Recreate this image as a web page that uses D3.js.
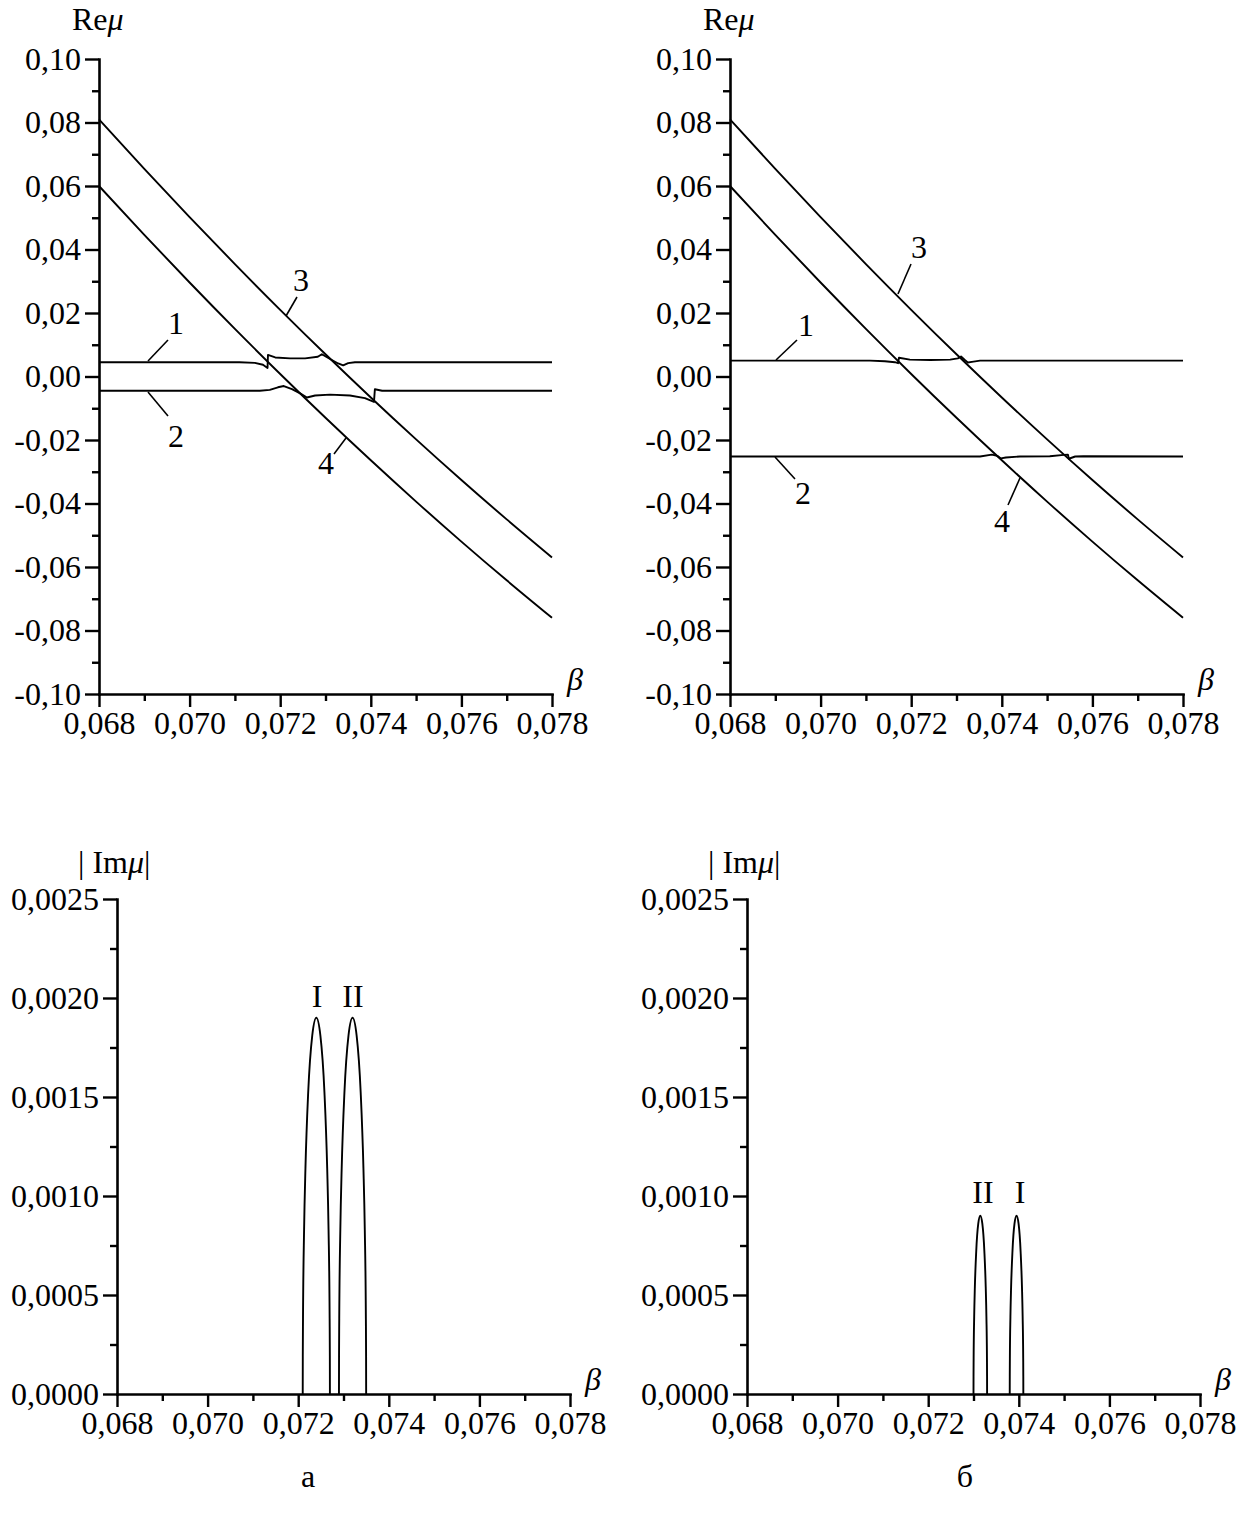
<!DOCTYPE html>
<html>
<head>
<meta charset="utf-8">
<script src="https://cdn.jsdelivr.net/npm/d3@7"></script>
<style>
  body { margin: 0; background: #fff; }
  svg text { font-family: "Liberation Serif", "Times New Roman", serif; fill: #000; }
</style>
</head>
<body>
<svg id="fig" width="1252" height="1517"></svg>
<script>
// ---- tick values ----
const betaTicks = [0.068, 0.070, 0.072, 0.074, 0.076, 0.078];
const betaMinor = [0.069, 0.071, 0.073, 0.075, 0.077];
const reTicks = [-0.10, -0.08, -0.06, -0.04, -0.02, 0.00, 0.02, 0.04, 0.06, 0.08, 0.10];
const reMinor = [-0.09, -0.07, -0.05, -0.03, -0.01, 0.01, 0.03, 0.05, 0.07, 0.09];
const imTicks = [0.0000, 0.0005, 0.0010, 0.0015, 0.0020, 0.0025];
const imMinor = [0.00025, 0.00075, 0.00125, 0.00175, 0.00225];

// ---- curves 3 and 4 (same in both columns) ----
const lineBeta = [0.068, 0.069, 0.070, 0.071, 0.072, 0.073, 0.074, 0.075, 0.076, 0.077, 0.078];
const re3 = [0.0810, 0.0654, 0.0502, 0.0354, 0.0210, 0.0070, -0.0066, -0.0198, -0.0326, -0.0450, -0.0570];
const re4 = [0.0600, 0.0446, 0.0296, 0.0150, 0.0008, -0.0130, -0.0264, -0.0394, -0.0520, -0.0642, -0.0760];

// ---- column а: curves 1 and 2 ----
const a1Beta = [0.0680, 0.07110, 0.07144, 0.07162, 0.07172, 0.07173, 0.07189, 0.07222, 0.07255, 0.07283, 0.07292, 0.07310, 0.07328, 0.07339, 0.07350, 0.07365, 0.07400, 0.0780];
const a1Re   = [0.0045, 0.0045, 0.0043, 0.0037, 0.0027, 0.0068, 0.0060, 0.0057, 0.0057, 0.0062, 0.0070, 0.0055, 0.0041, 0.0035, 0.0042, 0.0045, 0.0045, 0.0045];
const a2Beta = [0.0680, 0.07155, 0.07177, 0.07195, 0.07208, 0.07226, 0.07244, 0.07259, 0.07277, 0.07310, 0.07354, 0.07387, 0.07407, 0.07409, 0.07425, 0.0780];
const a2Re   = [-0.0045, -0.0045, -0.0042, -0.0034, -0.0030, -0.0040, -0.0053, -0.0066, -0.0060, -0.0057, -0.0060, -0.0068, -0.0080, -0.0040, -0.0045, -0.0045];

// ---- column б: curves 1 and 2 ----
const b1Beta = [0.0680, 0.07109, 0.07142, 0.07164, 0.07171, 0.07173, 0.07197, 0.07242, 0.07286, 0.07303, 0.07310, 0.07319, 0.07325, 0.07334, 0.07352, 0.0780];
const b1Re   = [0.0050, 0.0050, 0.0048, 0.0045, 0.0042, 0.0059, 0.0053, 0.0052, 0.0053, 0.0057, 0.0063, 0.0051, 0.0044, 0.0046, 0.0050, 0.0050];
const b2Beta = [0.0680, 0.07352, 0.07378, 0.07390, 0.07398, 0.07409, 0.07440, 0.07506, 0.07537, 0.07546, 0.07548, 0.07562, 0.07580, 0.0780];
const b2Re   = [-0.0252, -0.0252, -0.0246, -0.0250, -0.0258, -0.0255, -0.0252, -0.0251, -0.0247, -0.0246, -0.0259, -0.0252, -0.0251, -0.0252];

// ---- |Im mu| peaks ----
const aPeakIBeta  = [0.07210, 0.0721015, 0.072106, 0.07213, 0.07216, 0.07222, 0.07231, 0.07240, 0.07249, 0.07258, 0.07264, 0.07267, 0.072694, 0.0726985, 0.07270];
const aPeakIIBeta = [0.07290, 0.0729015, 0.072906, 0.07293, 0.07296, 0.07302, 0.07311, 0.07320, 0.07329, 0.07338, 0.07344, 0.07347, 0.073494, 0.0734985, 0.07350];
const aPeakIm     = [0, 0.00019, 0.00038, 0.00083, 0.00114, 0.00152, 0.00181, 0.00190, 0.00181, 0.00152, 0.00114, 0.00083, 0.00038, 0.00019, 0];
const bPeakIIBeta = [0.07300, 0.0730008, 0.073003, 0.073015, 0.07303, 0.07306, 0.073105, 0.07315, 0.073195, 0.07324, 0.07327, 0.073285, 0.073297, 0.0732993, 0.07330];
const bPeakIBeta  = [0.07380, 0.0738008, 0.073803, 0.073815, 0.07383, 0.07386, 0.073905, 0.07395, 0.073995, 0.07404, 0.07407, 0.074085, 0.074097, 0.0740993, 0.07410];
const bPeakIm     = [0, 0.00009, 0.00018, 0.00039, 0.00054, 0.00072, 0.00086, 0.00090, 0.00086, 0.00072, 0.00054, 0.00039, 0.00018, 0.00009, 0];

const svg = d3.select("#fig");
const FS = 32;

const fmtBeta = d => d.toFixed(3).replace(".", ",");
const fmtRe = d => d.toFixed(2).replace(".", ",");
const fmtIm = d => d.toFixed(4).replace(".", ",");

function frame(o) {
  const x = d3.scaleLinear().domain([0.068, 0.078]).range([o.x0, o.x1]);
  const y = d3.scaleLinear().domain(o.yDomain).range([o.y1, o.y0]);
  const g = svg.append("g");

  const styleAxis = sel => {
    sel.selectAll("path.domain").attr("stroke", "#000").attr("stroke-width", 2.6).attr("stroke-linecap", "square");
    sel.selectAll(".tick line").attr("stroke", "#000").attr("stroke-width", 2.4);
    sel.selectAll(".tick text").attr("font-size", FS).attr("font-family", "Liberation Serif, serif");
  };

  // minor ticks
  g.append("g").attr("transform", `translate(0,${o.y1})`)
    .call(d3.axisBottom(x).tickValues(betaMinor).tickSize(7).tickFormat(""))
    .call(s => s.select("path.domain").remove()).call(styleAxis);
  g.append("g").attr("transform", `translate(${o.x0},0)`)
    .call(d3.axisLeft(y).tickValues(o.yMinor).tickSize(7).tickFormat(""))
    .call(s => s.select("path.domain").remove()).call(styleAxis);

  // major ticks and axis lines
  g.append("g").attr("transform", `translate(0,${o.y1})`)
    .call(d3.axisBottom(x).tickValues(betaTicks).tickSize(13).tickSizeOuter(0).tickPadding(4).tickFormat(fmtBeta))
    .call(styleAxis);
  g.append("g").attr("transform", `translate(${o.x0},0)`)
    .call(d3.axisLeft(y).tickValues(o.yTicks).tickSize(14).tickSizeOuter(0).tickPadding(4).tickFormat(o.yFmt))
    .call(styleAxis);

  // axis titles
  g.append("text").attr("x", o.x1 + 15).attr("y", o.y1 - 4)
    .attr("font-size", FS).attr("font-style", "italic").text("β");
  const t = g.append("text").attr("x", o.titleX).attr("y", o.titleY).attr("font-size", FS);
  if (o.kind === "re") {
    t.append("tspan").text("Re");
    t.append("tspan").attr("font-style", "italic").text("μ");
  } else {
    t.append("tspan").text("| Im");
    t.append("tspan").attr("font-style", "italic").text("μ");
    t.append("tspan").text("|");
  }
  return { g, x, y };
}

function curve(p, bs, vs, smooth) {
  const line = d3.line().x(d => p.x(d[0])).y(d => p.y(d[1]))
    .curve(smooth ? d3.curveMonotoneX : d3.curveLinear);
  p.g.append("path").datum(d3.zip(bs, vs)).attr("d", line)
    .attr("fill", "none").attr("stroke", "#000").attr("stroke-width", 1.9)
    .attr("stroke-linejoin", "round");
}

function tag(p, txt, tx, ty, lx1, ly1, lx2, ly2) {
  p.g.append("text").attr("x", tx).attr("y", ty).attr("text-anchor", "middle")
    .attr("font-size", FS).text(txt);
  if (lx1 !== undefined) {
    p.g.append("line").attr("x1", lx1).attr("y1", ly1).attr("x2", lx2).attr("y2", ly2)
      .attr("stroke", "#000").attr("stroke-width", 1.6);
  }
}

const reCommon = { yDomain: [-0.10, 0.10], yTicks: reTicks, yMinor: reMinor, yFmt: fmtRe, kind: "re", y0: 59, y1: 694, titleY: 30 };
const imCommon = { yDomain: [0, 0.0025], yTicks: imTicks, yMinor: imMinor, yFmt: fmtIm, kind: "im", y0: 899, y1: 1394, titleY: 873 };

// ---- column а, top ----
const pa = frame({ ...reCommon, x0: 99, x1: 552, titleX: 72 });
curve(pa, lineBeta, re3, true);
curve(pa, lineBeta, re4, true);
curve(pa, a1Beta, a1Re, false);
curve(pa, a2Beta, a2Re, false);
tag(pa, "1", 176, 334, 148, 361, 168, 340);
tag(pa, "2", 176, 447, 148, 392, 168, 416);
tag(pa, "3", 301, 291, 286, 316, 297, 297);
tag(pa, "4", 326, 474, 346, 438, 334, 454);

// ---- column б, top ----
const pb = frame({ ...reCommon, x0: 730, x1: 1183, titleX: 703 });
curve(pb, lineBeta, re3, true);
curve(pb, lineBeta, re4, true);
curve(pb, b1Beta, b1Re, false);
curve(pb, b2Beta, b2Re, false);
tag(pb, "1", 806, 336, 776, 360, 797, 340);
tag(pb, "2", 803, 504, 775, 457, 795, 479);
tag(pb, "3", 919, 258, 898, 294, 911, 264);
tag(pb, "4", 1002, 532, 1020, 478, 1008, 505);

// ---- column а, bottom ----
const qa = frame({ ...imCommon, x0: 117, x1: 570, titleX: 78 });
curve(qa, aPeakIBeta, aPeakIm, true);
curve(qa, aPeakIIBeta, aPeakIm, true);
tag(qa, "I", 317, 1007);
tag(qa, "II", 353, 1007);

// ---- column б, bottom ----
const qb = frame({ ...imCommon, x0: 747, x1: 1200, titleX: 708 });
curve(qb, bPeakIIBeta, bPeakIm, true);
curve(qb, bPeakIBeta, bPeakIm, true);
tag(qb, "II", 983, 1203);
tag(qb, "I", 1020, 1203);

// ---- column captions ----
svg.append("text").attr("x", 308).attr("y", 1487).attr("text-anchor", "middle").attr("font-size", FS).text("а");
svg.append("text").attr("x", 965).attr("y", 1487).attr("text-anchor", "middle").attr("font-size", FS).text("б");
</script>
</body>
</html>
